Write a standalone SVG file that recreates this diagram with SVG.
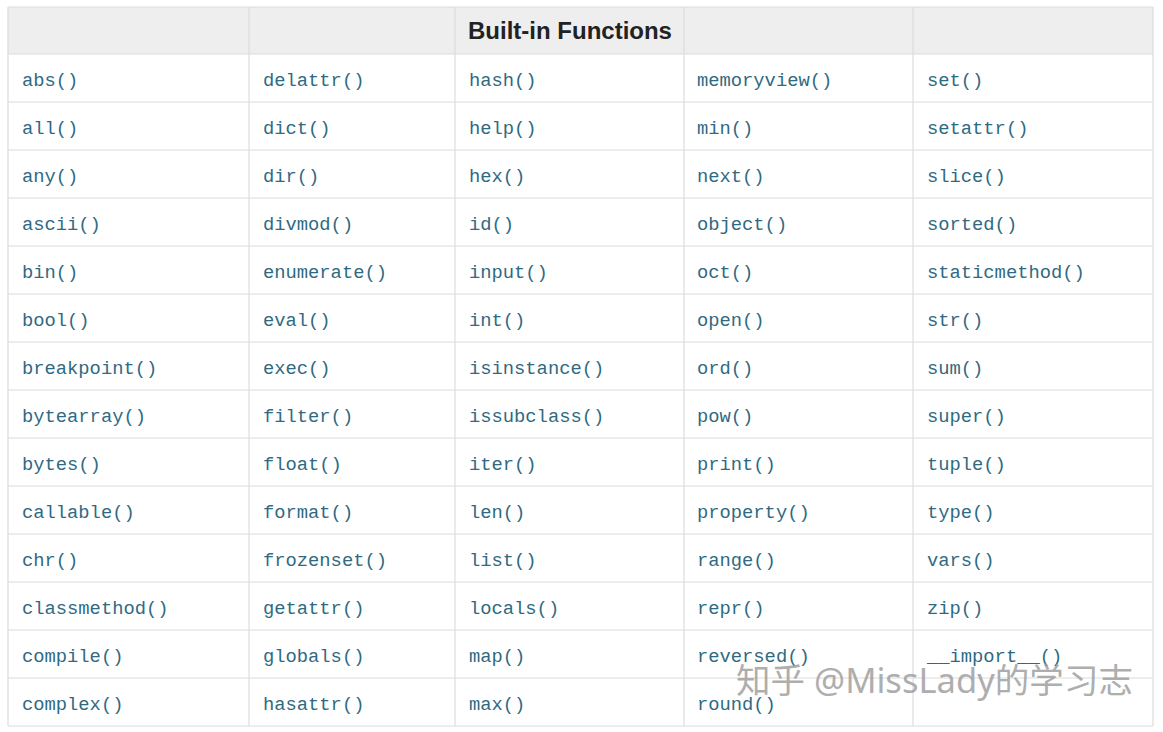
<svg xmlns="http://www.w3.org/2000/svg" width="1163" height="732" viewBox="0 0 1163 732">
<style>
.fn{font-family:"Liberation Mono","DejaVu Sans Mono",monospace;font-size:18.8px;fill:#2f6a82}
.hd{font-family:"Liberation Sans",Arial,sans-serif;font-size:24px;font-weight:bold;fill:#222}
.ln{stroke:#dcdcdc;stroke-width:1.2;fill:none}
.wm{font-family:"Noto Sans","Noto Sans CJK SC",sans-serif;font-size:34px;fill:#9a9a9a;opacity:0.8}
</style>
<rect x="0" y="0" width="1163" height="732" fill="#fff"/>
<rect x="8" y="7" width="1145" height="47" fill="#eeeeee"/>
<g id="connectors" class="ln">
<path d="M8 7H1153M8 54H1153M8 102H1153M8 150H1153M8 198H1153M8 246H1153M8 294H1153M8 342H1153M8 390H1153M8 438H1153M8 486H1153M8 534H1153M8 582H1153M8 630H1153M8 678H1153M8 726H1153"/>
<path d="M8 7V726M249 7V726M455 7V726M684 7V726M913 7V726M1153 7V726"/>
</g>
<g id="header"><text class="hd" x="468" y="39">Built-in Functions</text></g>
<g id="col1" class="fn">
<g id="c1r1"><text x="22" y="86">abs()</text></g>
<g id="c1r2"><text x="22" y="134">all()</text></g>
<g id="c1r3"><text x="22" y="182">any()</text></g>
<g id="c1r4"><text x="22" y="230">ascii()</text></g>
<g id="c1r5"><text x="22" y="278">bin()</text></g>
<g id="c1r6"><text x="22" y="326">bool()</text></g>
<g id="c1r7"><text x="22" y="374">breakpoint()</text></g>
<g id="c1r8"><text x="22" y="422">bytearray()</text></g>
<g id="c1r9"><text x="22" y="470">bytes()</text></g>
<g id="c1r10"><text x="22" y="518">callable()</text></g>
<g id="c1r11"><text x="22" y="566">chr()</text></g>
<g id="c1r12"><text x="22" y="614">classmethod()</text></g>
<g id="c1r13"><text x="22" y="662">compile()</text></g>
<g id="c1r14"><text x="22" y="710">complex()</text></g>
</g>
<g id="col2" class="fn">
<g id="c2r1"><text x="263" y="86">delattr()</text></g>
<g id="c2r2"><text x="263" y="134">dict()</text></g>
<g id="c2r3"><text x="263" y="182">dir()</text></g>
<g id="c2r4"><text x="263" y="230">divmod()</text></g>
<g id="c2r5"><text x="263" y="278">enumerate()</text></g>
<g id="c2r6"><text x="263" y="326">eval()</text></g>
<g id="c2r7"><text x="263" y="374">exec()</text></g>
<g id="c2r8"><text x="263" y="422">filter()</text></g>
<g id="c2r9"><text x="263" y="470">float()</text></g>
<g id="c2r10"><text x="263" y="518">format()</text></g>
<g id="c2r11"><text x="263" y="566">frozenset()</text></g>
<g id="c2r12"><text x="263" y="614">getattr()</text></g>
<g id="c2r13"><text x="263" y="662">globals()</text></g>
<g id="c2r14"><text x="263" y="710">hasattr()</text></g>
</g>
<g id="col3" class="fn">
<g id="c3r1"><text x="469" y="86">hash()</text></g>
<g id="c3r2"><text x="469" y="134">help()</text></g>
<g id="c3r3"><text x="469" y="182">hex()</text></g>
<g id="c3r4"><text x="469" y="230">id()</text></g>
<g id="c3r5"><text x="469" y="278">input()</text></g>
<g id="c3r6"><text x="469" y="326">int()</text></g>
<g id="c3r7"><text x="469" y="374">isinstance()</text></g>
<g id="c3r8"><text x="469" y="422">issubclass()</text></g>
<g id="c3r9"><text x="469" y="470">iter()</text></g>
<g id="c3r10"><text x="469" y="518">len()</text></g>
<g id="c3r11"><text x="469" y="566">list()</text></g>
<g id="c3r12"><text x="469" y="614">locals()</text></g>
<g id="c3r13"><text x="469" y="662">map()</text></g>
<g id="c3r14"><text x="469" y="710">max()</text></g>
</g>
<g id="col4" class="fn">
<g id="c4r1"><text x="697" y="86">memoryview()</text></g>
<g id="c4r2"><text x="697" y="134">min()</text></g>
<g id="c4r3"><text x="697" y="182">next()</text></g>
<g id="c4r4"><text x="697" y="230">object()</text></g>
<g id="c4r5"><text x="697" y="278">oct()</text></g>
<g id="c4r6"><text x="697" y="326">open()</text></g>
<g id="c4r7"><text x="697" y="374">ord()</text></g>
<g id="c4r8"><text x="697" y="422">pow()</text></g>
<g id="c4r9"><text x="697" y="470">print()</text></g>
<g id="c4r10"><text x="697" y="518">property()</text></g>
<g id="c4r11"><text x="697" y="566">range()</text></g>
<g id="c4r12"><text x="697" y="614">repr()</text></g>
<g id="c4r13"><text x="697" y="662">reversed()</text></g>
<g id="c4r14"><text x="697" y="710">round()</text></g>
</g>
<g id="col5" class="fn">
<g id="c5r1"><text x="927" y="86">set()</text></g>
<g id="c5r2"><text x="927" y="134">setattr()</text></g>
<g id="c5r3"><text x="927" y="182">slice()</text></g>
<g id="c5r4"><text x="927" y="230">sorted()</text></g>
<g id="c5r5"><text x="927" y="278">staticmethod()</text></g>
<g id="c5r6"><text x="927" y="326">str()</text></g>
<g id="c5r7"><text x="927" y="374">sum()</text></g>
<g id="c5r8"><text x="927" y="422">super()</text></g>
<g id="c5r9"><text x="927" y="470">tuple()</text></g>
<g id="c5r10"><text x="927" y="518">type()</text></g>
<g id="c5r11"><text x="927" y="566">vars()</text></g>
<g id="c5r12"><text x="927" y="614">zip()</text></g>
<g id="c5r13"><text x="927" y="662">__import__()</text></g>
</g>
<g id="watermark"><text class="wm" x="736" y="693" textLength="397" lengthAdjust="spacingAndGlyphs">知乎 @MissLady的学习志</text></g>
</svg>
